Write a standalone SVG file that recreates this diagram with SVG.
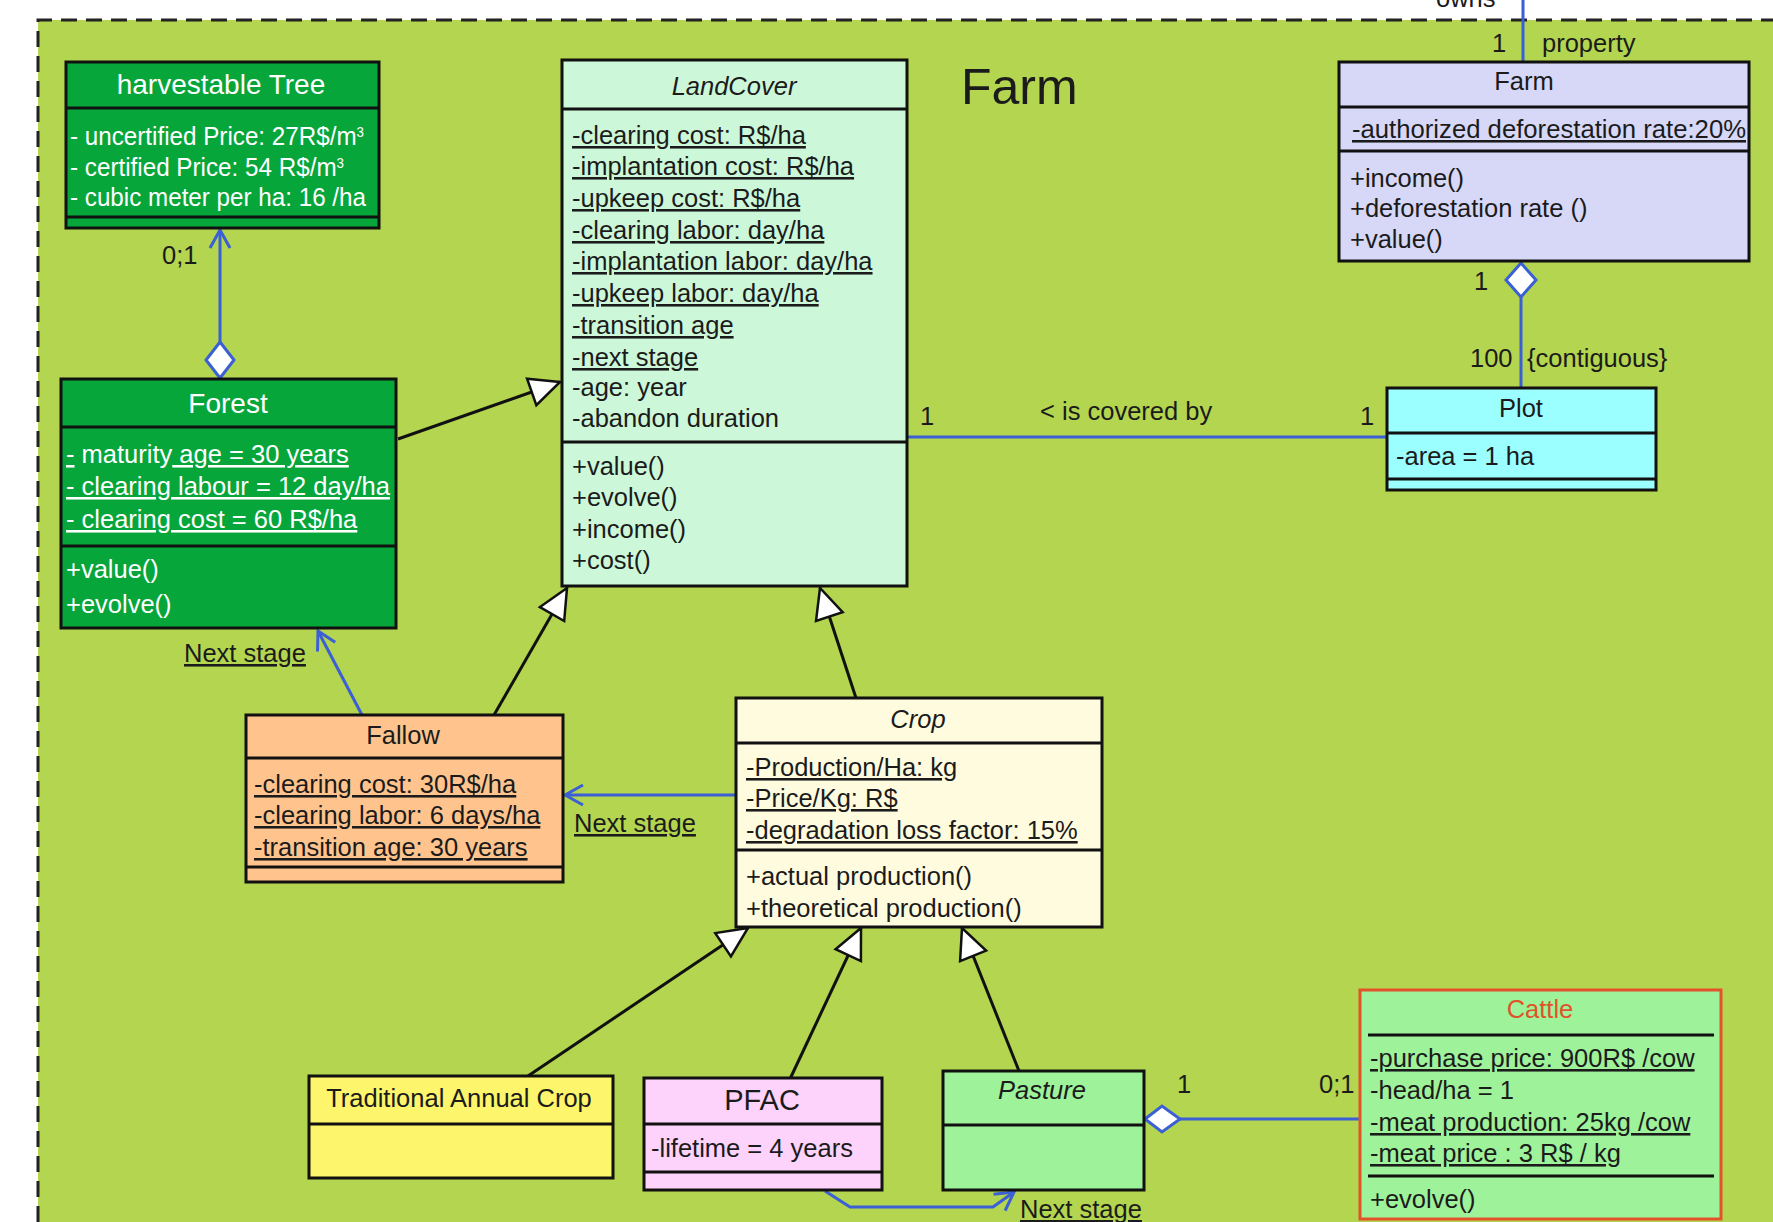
<svg xmlns="http://www.w3.org/2000/svg" width="1773" height="1222" viewBox="0 0 1773 1222">
  <style>
    text{font-family:"Liberation Sans",Arial,Helvetica,sans-serif;font-size:25.5px;fill:#1b1b1b}
    .c{text-anchor:middle}
    .it{font-style:italic}
    .u{text-decoration:underline}
    .w{fill:#ffffff}
    .ttl{font-size:28px}
    .sup{font-size:14px}
    .box{stroke:#111;stroke-width:3}
    .sep{stroke:#111;stroke-width:3}
    .assoc{stroke:#3b5fd4;stroke-width:3;fill:none}
    .gen{stroke:#111;stroke-width:3;fill:none}
    .dia{stroke:#3b5fd4;stroke-width:3;fill:#ffffff}
  </style>
  <defs>
    <marker id="tri" viewBox="-33 -17 35 34" markerWidth="35" markerHeight="34" refX="0" refY="0" orient="auto" markerUnits="userSpaceOnUse">
      <path d="M0,0 L-30,-14 L-30,14 Z" fill="#ffffff" stroke="#111" stroke-width="2.5"/>
    </marker>
    <marker id="open" viewBox="-22 -13 25 26" markerWidth="25" markerHeight="26" refX="0" refY="0" orient="auto" markerUnits="userSpaceOnUse">
      <path d="M-18,-10 L0,0 L-18,10" fill="none" stroke="#3b5fd4" stroke-width="3"/>
    </marker>
  </defs>

  <!-- page and package frame -->
  <rect x="0" y="0" width="1773" height="1222" fill="#ffffff"/>
  <rect x="38" y="20" width="1735" height="1202" fill="#b3d54f"/>
  <path d="M38,1222 L38,20 L1773,20" fill="none" stroke="#222" stroke-width="3" stroke-dasharray="16 9"/>
  <text x="961" y="104" style="font-size:50px">Farm</text>

  <!-- connectors -->
  <g id="connectors">
    <!-- owns / property -->
    <line class="assoc" x1="1523" y1="0" x2="1523" y2="62"/>
    <text x="1436" y="7">owns</text>
    <text x="1492" y="52">1</text>
    <text x="1542" y="52">property</text>

    <!-- Forest aggregates harvestable Tree -->
    <line class="assoc" x1="220" y1="342" x2="220" y2="230" marker-end="url(#open)"/>
    <polygon class="dia" points="220,342 234,360 220,378 206,360"/>
    <text x="162" y="264">0;1</text>

    <!-- generalizations to LandCover -->
    <line class="gen" x1="398" y1="439" x2="560" y2="382" marker-end="url(#tri)"/>
    <line class="gen" x1="494" y1="715" x2="567" y2="588" marker-end="url(#tri)"/>
    <line class="gen" x1="856" y1="698" x2="820" y2="588" marker-end="url(#tri)"/>

    <!-- next stage links -->
    <line class="assoc" x1="362" y1="715" x2="318" y2="631" marker-end="url(#open)"/>
    <text class="u" x="184" y="662">Next stage</text>
    <line class="assoc" x1="736" y1="795" x2="565" y2="795" marker-end="url(#open)"/>
    <text class="u" x="574" y="832">Next stage</text>
    <path class="assoc" d="M825,1191 L850,1207 L993,1207 L1014,1192" marker-end="url(#open)"/>
    <text class="u" x="1020" y="1218">Next stage</text>

    <!-- LandCover is covered by Plot -->
    <line class="assoc" x1="907" y1="437" x2="1387" y2="437"/>
    <text x="920" y="425">1</text>
    <text x="1040" y="420">&lt; is covered by</text>
    <text x="1360" y="425">1</text>

    <!-- Farm aggregates Plot -->
    <polygon class="dia" points="1521,263 1536,280 1521,297 1506,280"/>
    <line class="assoc" x1="1521" y1="297" x2="1521" y2="388"/>
    <text x="1474" y="290">1</text>
    <text x="1470" y="367">100</text>
    <text x="1527" y="367">{contiguous}</text>

    <!-- generalizations to Crop -->
    <line class="gen" x1="528" y1="1076" x2="748" y2="928" marker-end="url(#tri)"/>
    <line class="gen" x1="790" y1="1079" x2="861" y2="928" marker-end="url(#tri)"/>
    <line class="gen" x1="1019" y1="1071" x2="962" y2="928" marker-end="url(#tri)"/>

    <!-- Pasture aggregates Cattle -->
    <line class="assoc" x1="1180" y1="1119" x2="1360" y2="1119"/>
    <polygon class="dia" points="1145,1119 1162,1106 1180,1119 1162,1132"/>
    <text x="1177" y="1093">1</text>
    <text x="1319" y="1093">0;1</text>
  </g>

  <!-- harvestable Tree -->
  <g id="harvestable-tree">
    <rect class="box" x="66" y="62" width="313" height="166" fill="#07a63b"/>
    <line class="sep" x1="66" y1="108" x2="379" y2="108"/>
    <line class="sep" x1="66" y1="217" x2="379" y2="217"/>
    <text class="c w ttl" x="221" y="94">harvestable Tree</text>
    <text class="w" x="70" y="145" textLength="294" lengthAdjust="spacingAndGlyphs">- uncertified Price: 27R$/m<tspan class="sup" dy="-8">3</tspan></text>
    <text class="w" x="70" y="176" textLength="274" lengthAdjust="spacingAndGlyphs">- certified Price: 54 R$/m<tspan class="sup" dy="-8">3</tspan></text>
    <text class="w" x="70" y="206" textLength="296" lengthAdjust="spacingAndGlyphs">- cubic meter per ha: 16 /ha</text>
  </g>

  <!-- Forest -->
  <g id="forest">
    <rect class="box" x="61" y="379" width="335" height="249" fill="#07a63b"/>
    <line class="sep" x1="61" y1="427" x2="396" y2="427"/>
    <line class="sep" x1="61" y1="546" x2="396" y2="546"/>
    <text class="c w ttl" x="228" y="413">Forest</text>
    <text class="w" x="66" y="463"><tspan class="u">-</tspan> maturity<tspan class="u"> age = 30 years</tspan></text>
    <text class="w u" x="66" y="495">- clearing labour = 12 day/ha</text>
    <text class="w u" x="66" y="528">- clearing cost = 60 R$/ha</text>
    <text class="w" x="66" y="578">+value()</text>
    <text class="w" x="66" y="613">+evolve()</text>
  </g>

  <!-- LandCover -->
  <g id="landcover">
    <rect class="box" x="562" y="60" width="345" height="526" fill="#cdf7d9"/>
    <line class="sep" x1="562" y1="109" x2="907" y2="109"/>
    <line class="sep" x1="562" y1="442" x2="907" y2="442"/>
    <text class="c it" x="734" y="95">LandCover</text>
    <text class="u" x="572" y="144">-clearing cost: R$/ha</text>
    <text class="u" x="572" y="175">-implantation cost: R$/ha</text>
    <text class="u" x="572" y="207">-upkeep cost: R$/ha</text>
    <text class="u" x="572" y="239">-clearing labor: day/ha</text>
    <text class="u" x="572" y="270">-implantation labor: day/ha</text>
    <text class="u" x="572" y="302">-upkeep labor: day/ha</text>
    <text class="u" x="572" y="334">-transition age</text>
    <text class="u" x="572" y="366">-next stage</text>
    <text x="572" y="396">-age: year</text>
    <text x="572" y="427">-abandon duration</text>
    <text x="572" y="475">+value()</text>
    <text x="572" y="506">+evolve()</text>
    <text x="572" y="538">+income()</text>
    <text x="572" y="569">+cost()</text>
  </g>

  <!-- Farm -->
  <g id="farm">
    <rect class="box" x="1339" y="62" width="410" height="199" fill="#d7d7f7"/>
    <line class="sep" x1="1339" y1="107" x2="1749" y2="107"/>
    <line class="sep" x1="1339" y1="151" x2="1749" y2="151"/>
    <text class="c" x="1524" y="90">Farm</text>
    <text class="u" x="1352" y="138" textLength="394" lengthAdjust="spacingAndGlyphs">-authorized deforestation rate:20%</text>
    <text x="1350" y="187">+income()</text>
    <text x="1350" y="217">+deforestation rate ()</text>
    <text x="1350" y="248">+value()</text>
  </g>

  <!-- Plot -->
  <g id="plot">
    <rect class="box" x="1387" y="388" width="269" height="102" fill="#9bffff"/>
    <line class="sep" x1="1387" y1="433" x2="1656" y2="433"/>
    <line class="sep" x1="1387" y1="479" x2="1656" y2="479"/>
    <text class="c" x="1521" y="417">Plot</text>
    <text x="1396" y="465">-area = 1 ha</text>
  </g>

  <!-- Fallow -->
  <g id="fallow">
    <rect class="box" x="246" y="715" width="317" height="167" fill="#ffc48d"/>
    <line class="sep" x1="246" y1="758" x2="563" y2="758"/>
    <line class="sep" x1="246" y1="867" x2="563" y2="867"/>
    <text class="c" x="403" y="744">Fallow</text>
    <text class="u" x="254" y="793">-clearing cost: 30R$/ha</text>
    <text class="u" x="254" y="824">-clearing labor: 6 days/ha</text>
    <text class="u" x="254" y="856">-transition age: 30 years</text>
  </g>

  <!-- Crop -->
  <g id="crop">
    <rect class="box" x="736" y="698" width="366" height="229" fill="#fffbdf"/>
    <line class="sep" x1="736" y1="743" x2="1102" y2="743"/>
    <line class="sep" x1="736" y1="850" x2="1102" y2="850"/>
    <text class="c it" x="918" y="728">Crop</text>
    <text class="u" x="746" y="776">-Production/Ha: kg</text>
    <text class="u" x="746" y="807">-Price/Kg: R$</text>
    <text class="u" x="746" y="839">-degradation loss factor: 15%</text>
    <text x="746" y="885">+actual production()</text>
    <text x="746" y="917">+theoretical production()</text>
  </g>

  <!-- Traditional Annual Crop -->
  <g id="traditional-annual-crop">
    <rect class="box" x="309" y="1076" width="304" height="102" fill="#fdf56b"/>
    <line class="sep" x1="309" y1="1124" x2="613" y2="1124"/>
    <text class="c" x="459" y="1107">Traditional Annual Crop</text>
  </g>

  <!-- PFAC -->
  <g id="pfac">
    <rect class="box" x="644" y="1078" width="238" height="112" fill="#fdd3fb"/>
    <line class="sep" x1="644" y1="1124" x2="882" y2="1124"/>
    <line class="sep" x1="644" y1="1172" x2="882" y2="1172"/>
    <text class="c" x="762" y="1110" style="font-size:29px">PFAC</text>
    <text x="651" y="1157">-lifetime = 4 years</text>
  </g>

  <!-- Pasture -->
  <g id="pasture">
    <rect class="box" x="943" y="1071" width="201" height="119" fill="#9ef29a"/>
    <line class="sep" x1="943" y1="1125" x2="1144" y2="1125"/>
    <text class="c it" x="1042" y="1099">Pasture</text>
  </g>

  <!-- Cattle -->
  <g id="cattle">
    <rect x="1360" y="990" width="361" height="229" fill="#9ef29a" stroke="#e4522b" stroke-width="3"/>
    <line class="sep" x1="1368" y1="1035" x2="1714" y2="1035"/>
    <line class="sep" x1="1368" y1="1176" x2="1714" y2="1176"/>
    <text class="c" x="1540" y="1018" style="fill:#e0522a">Cattle</text>
    <text class="u" x="1370" y="1067">-purchase price: 900R$ /cow</text>
    <text x="1370" y="1099">-head/ha = 1</text>
    <text class="u" x="1370" y="1131">-meat production: 25kg /cow</text>
    <text class="u" x="1370" y="1162">-meat price : 3 R$ / kg </text>
    <text x="1370" y="1208">+evolve()</text>
  </g>
</svg>
